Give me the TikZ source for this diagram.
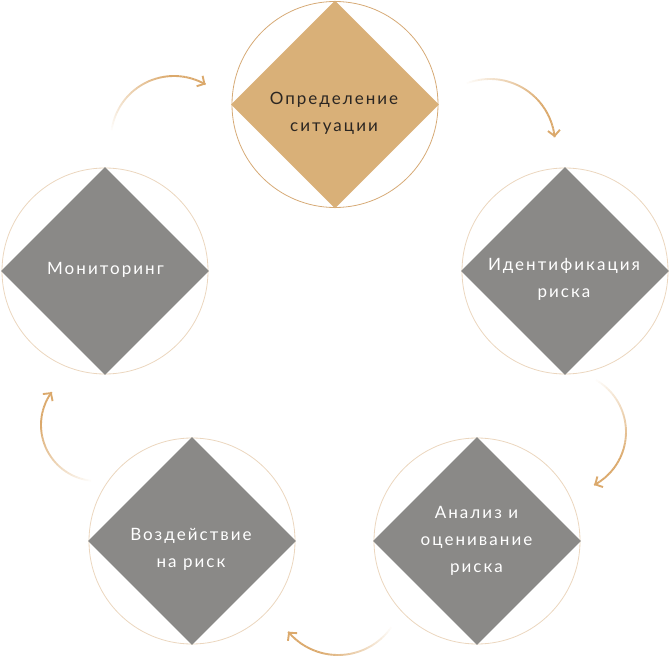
\documentclass[tikz,border=0pt]{standalone}
\usepackage{fontspec}
\setmainfont{Lato}[LetterSpace=12]
\usetikzlibrary{shapes.geometric,arrows.meta,calc}
\definecolor{gold}{HTML}{D9B078}
\definecolor{grayd}{HTML}{8A8987}
\definecolor{ringc}{HTML}{EBD6BE}
\definecolor{ringtop}{HTML}{D6AA76}
\definecolor{arrc}{HTML}{DBA96C}
\definecolor{txtdark}{HTML}{2B2622}
\newcommand{\fadearrow}[4]{%
  \foreach \k in {0,...,39}{%
    \pgfmathsetmacro\aa{#3+(#4-#3)*\k/40}%
    \pgfmathsetmacro\bb{#3+(#4-#3)*(\k+1)/40}%
    \pgfmathsetmacro\oo{min(1,1.4*(\k+1)/40)}%
    \draw[arrline, opacity=\oo] ($(#1)+(\aa:#2pt)$) arc[start angle=\aa, end angle=\bb, radius=#2pt];
  }%
  \pgfmathsetmacro\cc{#4+3}%
  \draw[arrline, -{Straight Barb[length=5.5pt,width=12pt]}] ($(#1)+(\cc:#2pt)$) arc[start angle=\cc, end angle=#4, radius=#2pt];
}
\begin{document}
\begin{tikzpicture}[x=1pt,y=1pt,
  ring/.style={circle, draw=ringc, line width=0.8pt, minimum size=206pt, inner sep=0pt},
  gem/.style={diamond, aspect=1, minimum width=208pt, minimum height=208pt, inner sep=0pt, fill=grayd},
  lbl/.style={text=white, font=\fontsize{17}{27}\selectfont, align=center, inner sep=0pt},
  arrline/.style={draw=arrc, line width=1.9pt, line cap=butt},
]
\useasboundingbox (0,0) rectangle (670,-658);
% node centres
\coordinate (p1) at (335,-104.5);
\coordinate (p2) at (565,-271);
\coordinate (p3) at (477,-541);
\coordinate (p4) at (192,-541);
\coordinate (p5) at (105,-271);
% rings
\node[ring, draw=ringtop] (r1) at (p1) {};
\node[ring] (r2) at (p2) {};
\node[ring] (r3) at (p3) {};
\node[ring] (r4) at (p4) {};
\node[ring] (r5) at (p5) {};
% diamonds
\node[gem, fill=gold] (d1) at (p1) {};
\node[gem] (d2) at (p2) {};
\node[gem] (d3) at (p3) {};
\node[gem] (d4) at (p4) {};
\node[gem] (d5) at (p5) {};
% labels
\node[lbl, text=txtdark] (t1) at (334,-113.5) {Определение\\ситуации};
\node[lbl] (t2) at (564,-279.5) {Идентификация\\риска};
\node[lbl] (t3) at (476.5,-541) {Анализ и\\оценивание\\риска};
\node[lbl] (t4) at (191,-549) {Воздействие\\на риск};
\node[lbl] (t5) at (105.5,-270) {Мониторинг};
% arrow centres
\coordinate (a1) at (174,-139);
\coordinate (a2) at (490,-144);
\coordinate (a3) at (566,-432);
\coordinate (a4) at (338,-590);
\coordinate (a5) at (97,-425);
\fadearrow{a1}{63}{172}{60}
\fadearrow{a2}{65}{111}{6}
\fadearrow{a3}{60}{60}{-62}
\fadearrow{a4}{65}{-35}{-140}
\fadearrow{a5}{56}{264}{144}
\end{tikzpicture}
\end{document}
